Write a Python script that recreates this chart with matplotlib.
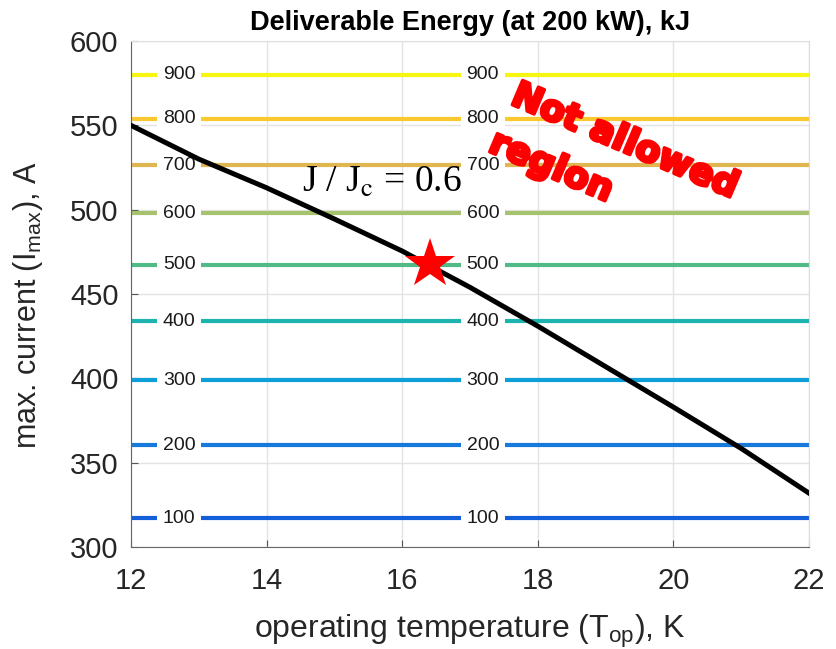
import matplotlib
matplotlib.use('Agg')
import matplotlib.pyplot as plt
import matplotlib.patheffects as pe

plt.rcParams['font.family'] = ['Liberation Sans', 'DejaVu Sans']
plt.rcParams['mathtext.fontset'] = 'custom'
plt.rcParams['mathtext.rm'] = 'Liberation Sans'
plt.rcParams['mathtext.it'] = 'Liberation Sans'

# energy levels (kJ) and the current where each level sits
energy_levels = [100, 200, 300, 400, 500, 600, 700, 800, 900]
level_current = [317, 360.5, 399, 434, 467.5, 498, 526.5, 554, 580]
level_colors = ['#135fd9', '#1779da', '#0c9fd8', '#1db3b1', '#50bb87',
                '#a7c26c', '#e0b651', '#fcc82f', '#f6f611']
label_x = [12.71, 17.19]

# J/Jc = 0.6 curve
temp = [12, 13, 14, 15, 16, 17, 18, 19, 20, 21, 22]
i_max = [550, 530, 513, 494.5, 475.5, 454, 431, 407, 383, 358.5, 332]

star_t = 16.41
star_i = 468


def main():
    fig = plt.figure(figsize=(8.37, 6.49), dpi=100)
    ax = fig.add_axes([0.1565, 0.157, 0.81, 0.7798])

    for e, y, c in zip(energy_levels, level_current, level_colors):
        ax.axhline(y, color=c, lw=3, zorder=2)
        for lx in label_x:
            ax.text(lx, y, str(e), fontsize=14, color='#1a1a1a',
                    ha='center', va='center', zorder=3,
                    bbox=dict(boxstyle='square,pad=0.3', fc='white', ec='none'))

    ax.plot(temp, i_max, color='black', lw=3.6, zorder=4)
    ax.plot(star_t, star_i, marker='*', color='red', markersize=38, zorder=5,
            markeredgewidth=0)

    ax.text(14.52, 510.5, r'J / J$_\mathrm{c}$ = 0.6', fontsize=27,
            family=['Liberation Serif', 'DejaVu Serif'], math_fontfamily='stix',
            ha='left', va='baseline', zorder=6)

    warn = dict(fontsize=26, fontweight='heavy', color='red', rotation=-23,
                rotation_mode='anchor', ha='left', va='baseline',
                family=['DejaVu Sans'], zorder=6,
                path_effects=[pe.withStroke(linewidth=2.5, foreground='red')])
    ax.text(17.58, 563, 'Not allowed', **warn)
    ax.text(17.25, 535, 'region', **warn)

    ax.set_xlim(12, 22)
    ax.set_ylim(300, 600)
    ax.set_xticks([12, 14, 16, 18, 20, 22])
    ax.set_yticks([300, 350, 400, 450, 500, 550, 600])
    ax.tick_params(direction='in', labelsize=21, labelcolor='#262626',
                   color='#555555', length=5)
    ax.tick_params(axis='x', pad=14)
    ax.tick_params(axis='y', pad=9)
    ax.grid(True, color='#e3e3e3', lw=1, zorder=0)
    ax.set_axisbelow(True)
    for s in ['left', 'bottom']:
        ax.spines[s].set_color('#666666')
    for s in ['top', 'right']:
        ax.spines[s].set_color('#dddddd')

    ax.set_title('Deliverable Energy (at 200 kW), kJ', fontsize=19.5,
                 fontweight='bold', pad=8)
    ax.set_xlabel(r'operating temperature (T$_\mathrm{op}$), K', fontsize=23,
                  color='#262626', labelpad=13)
    ax.set_ylabel(r'max. current (I$_\mathrm{max}$), A', fontsize=22,
                  color='#262626')
    ax.yaxis.set_label_coords(-0.127, 0.477)

    fig.savefig('out.png', dpi=100)


if __name__ == '__main__':
    main()
